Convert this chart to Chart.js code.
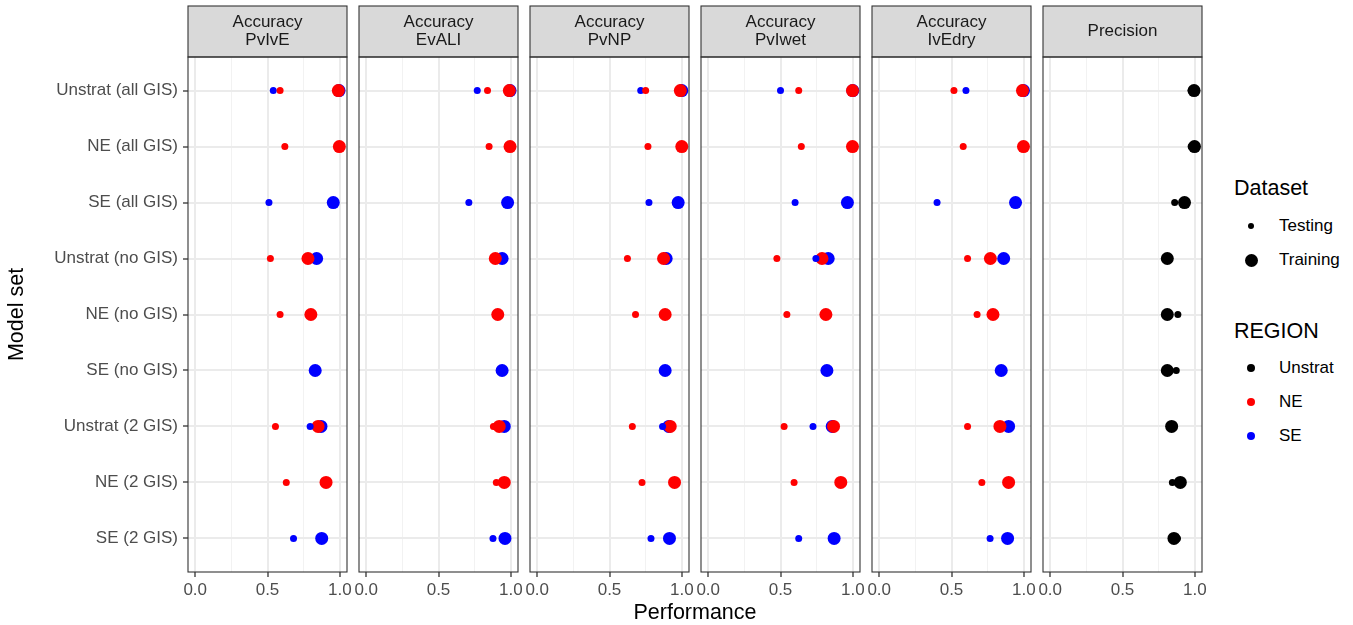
<!DOCTYPE html>
<html>
<head>
<meta charset="utf-8">
<script src="https://cdn.jsdelivr.net/npm/chart.js@4.4.1/dist/chart.umd.min.js"></script>
<style>
  body { margin: 0; background: #fff; font-family: "Liberation Sans", Arial, sans-serif; }
  #page { position: relative; width: 1353px; height: 625px; overflow: hidden; }
  canvas { position: absolute; top: 0; }
  .txt { position: absolute; white-space: nowrap; }
  .ttl { font-size: 21.5px; color: #000; line-height: 26px; }
  .lab { font-size: 17px; color: #000; line-height: 20px; }
  .dot { position: absolute; border-radius: 50%; }
</style>
</head>
<body>
<div id="page">
  <canvas id="p0"></canvas>
  <canvas id="p1"></canvas>
  <canvas id="p2"></canvas>
  <canvas id="p3"></canvas>
  <canvas id="p4"></canvas>
  <canvas id="p5"></canvas>

  <div class="txt ttl" style="left:695px; top:599px; transform:translateX(-50%);">Performance</div>

  <!-- legend -->
  <div class="txt ttl" style="left:1234px; top:175px;">Dataset</div>
  <div class="dot" style="left:1248px; top:223px; width:6px; height:6px; background:#000;"></div>
  <div class="txt lab" style="left:1279px; top:216px;">Testing</div>
  <div class="dot" style="left:1244.5px; top:253.5px; width:13px; height:13px; background:#000;"></div>
  <div class="txt lab" style="left:1279px; top:250px;">Training</div>

  <div class="txt ttl" style="left:1234px; top:318px;">REGION</div>
  <div class="dot" style="left:1247px; top:364px; width:8px; height:8px; background:#000;"></div>
  <div class="txt lab" style="left:1279px; top:358px;">Unstrat</div>
  <div class="dot" style="left:1247px; top:398px; width:8px; height:8px; background:#ff0000;"></div>
  <div class="txt lab" style="left:1279px; top:392px;">NE</div>
  <div class="dot" style="left:1247px; top:432px; width:8px; height:8px; background:#0000ff;"></div>
  <div class="txt lab" style="left:1279px; top:426px;">SE</div>
</div>

<script>
const modelSets = [
  'Unstrat (all GIS)', 'NE (all GIS)', 'SE (all GIS)',
  'Unstrat (no GIS)', 'NE (no GIS)', 'SE (no GIS)',
  'Unstrat (2 GIS)', 'NE (2 GIS)', 'SE (2 GIS)'
];
const xTicks = [0, 0.25, 0.5, 0.75, 1];
const xLabels = ['0.0', '', '0.5', '', '1.0'];

// Accuracy PvIvE
const pvive_ne_test  = [0.587, 0.62, null, 0.52, 0.587, null, 0.555, 0.63, null];
const pvive_se_test  = [0.54, null, 0.51, null, null, null, 0.795, null, 0.68];
const pvive_ne_train = [0.99, 0.997, null, 0.78, 0.80, null, 0.85, 0.905, null];
const pvive_se_train = [0.995, null, 0.955, 0.84, null, 0.83, 0.87, null, 0.875];

// Accuracy EvALI
const evali_ne_test  = [0.839, 0.85, null, null, null, null, 0.88, 0.90, null];
const evali_se_test  = [0.768, null, 0.71, null, null, null, null, null, 0.877];
const evali_ne_train = [0.99, 0.995, null, 0.893, 0.91, null, 0.92, 0.955, null];
const evali_se_train = [0.995, null, 0.978, 0.94, null, 0.94, 0.955, null, 0.96];

// Accuracy PvNP
const pvnp_ne_test  = [0.75, 0.766, null, 0.624, 0.68, null, 0.658, 0.725, null];
const pvnp_se_test  = [0.716, null, 0.773, null, null, null, 0.867, null, 0.787];
const pvnp_ne_train = [0.99, 1.0, null, 0.874, 0.885, null, 0.92, 0.95, null];
const pvnp_se_train = [1.0, null, 0.975, 0.892, null, 0.885, 0.91, null, 0.915];

// Accuracy PvIwet
const pviwet_ne_test  = [0.626, 0.644, null, 0.475, 0.544, null, 0.525, 0.594, null];
const pviwet_se_test  = [0.5, null, 0.601, 0.745, null, null, 0.725, null, 0.626];
const pviwet_ne_train = [0.998, 0.998, null, 0.787, 0.814, null, 0.867, 0.917, null];
const pviwet_se_train = [1.0, null, 0.963, 0.83, null, 0.821, 0.858, null, 0.871];

// Accuracy IvEdry
const ivedry_ne_test  = [0.517, 0.581, null, 0.611, 0.677, null, 0.611, 0.71, null];
const ivedry_se_test  = [0.6, null, 0.4, null, null, null, null, null, 0.767];
const ivedry_ne_train = [0.991, 0.998, null, 0.769, 0.787, null, 0.835, 0.895, null];
const ivedry_se_train = [0.998, null, 0.943, 0.861, null, 0.844, 0.895, null, 0.888];

// Precision (unstratified)
const precision_test  = [0.975, 0.975, 0.861, null, 0.883, 0.872, null, 0.845, 0.88];
const precision_train = [0.995, 0.998, 0.929, 0.81, 0.81, 0.81, 0.84, 0.9, 0.856];

const RED = '#ff0000', BLUE = '#0000ff', BLACK = '#000000';
const SMALL = 3.5, LARGE = 6.5;
const FONT = '"Liberation Sans", Arial, sans-serif';

const panels = [
  { strip: ['Accuracy', 'PvIvE'], series: [
    [pvive_ne_test, RED, SMALL], [pvive_se_test, BLUE, SMALL],
    [pvive_ne_train, RED, LARGE], [pvive_se_train, BLUE, LARGE]] },
  { strip: ['Accuracy', 'EvALI'], series: [
    [evali_ne_test, RED, SMALL], [evali_se_test, BLUE, SMALL],
    [evali_ne_train, RED, LARGE], [evali_se_train, BLUE, LARGE]] },
  { strip: ['Accuracy', 'PvNP'], series: [
    [pvnp_ne_test, RED, SMALL], [pvnp_se_test, BLUE, SMALL],
    [pvnp_ne_train, RED, LARGE], [pvnp_se_train, BLUE, LARGE]] },
  { strip: ['Accuracy', 'PvIwet'], series: [
    [pviwet_ne_test, RED, SMALL], [pviwet_se_test, BLUE, SMALL],
    [pviwet_ne_train, RED, LARGE], [pviwet_se_train, BLUE, LARGE]] },
  { strip: ['Accuracy', 'IvEdry'], series: [
    [ivedry_ne_test, RED, SMALL], [ivedry_se_test, BLUE, SMALL],
    [ivedry_ne_train, RED, LARGE], [ivedry_se_train, BLUE, LARGE]] },
  { strip: ['Precision'], series: [
    [precision_test, BLACK, SMALL], [precision_train, BLACK, LARGE]] }
];

// facet geometry
const PANEL_W = 159, PANEL_GAP = 171, FIRST_LEFT = 188;
const AREA_TOP = 57, AREA_BOTTOM = 572, STRIP_TOP = 6;
const SIDE = 20;

// grey strip header + dark frame around each facet
const stripPlugin = {
  id: 'strip',
  afterDraw(chart, args, opts) {
    const { ctx, chartArea: a } = chart;
    ctx.save();
    ctx.fillStyle = '#d9d9d9';
    ctx.fillRect(a.left, STRIP_TOP, a.width, a.top - STRIP_TOP);
    ctx.strokeStyle = '#333333';
    ctx.lineWidth = 1.1;
    ctx.strokeRect(a.left, STRIP_TOP, a.width, a.top - STRIP_TOP);
    ctx.strokeRect(a.left, a.top, a.width, a.height);
    ctx.fillStyle = '#1a1a1a';
    ctx.font = '17px ' + FONT;
    ctx.textAlign = 'center';
    ctx.textBaseline = 'middle';
    const mid = (STRIP_TOP + a.top) / 2;
    const step = 18.5;
    const y0 = mid - (opts.lines.length - 1) * step / 2;
    opts.lines.forEach((t, i) => ctx.fillText(t, (a.left + a.right) / 2, y0 + i * step));
    ctx.restore();
  }
};

panels.forEach((p, idx) => {
  const first = idx === 0;
  const left = FIRST_LEFT + idx * PANEL_GAP;
  const canvas = document.getElementById('p' + idx);
  const cLeft = first ? 0 : left - SIDE;
  const cWidth = first ? left + PANEL_W + 30 : PANEL_W + 2 * SIDE;
  canvas.width = cWidth;
  canvas.height = 625;
  canvas.style.left = cLeft + 'px';

  const datasets = p.series.map(([vals, color, r]) => ({
    data: vals.map((v, i) => v == null ? null : { x: v, y: i + 1 }).filter(d => d),
    backgroundColor: color,
    borderWidth: 0,
    pointRadius: r,
    pointHoverRadius: r
  }));

  new Chart(canvas.getContext('2d'), {
    type: 'scatter',
    data: { datasets },
    plugins: [stripPlugin],
    options: {
      responsive: false,
      animation: false,
      events: [],
      layout: { padding: { left: first ? 0 : SIDE, right: first ? 30 : SIDE, top: AREA_TOP, bottom: 0 } },
      plugins: {
        legend: { display: false },
        tooltip: { enabled: false },
        strip: { lines: p.strip }
      },
      scales: {
        x: {
          type: 'linear',
          min: -0.05,
          max: 1.05,
          afterBuildTicks: s => { s.ticks = xTicks.map(v => ({ value: v })); },
          afterFit: s => { s.height = 625 - AREA_BOTTOM; },
          border: { display: false },
          grid: {
            color: c => (c.index % 2 ? '#f2f2f2' : '#ebebeb'),
            lineWidth: c => (c.index % 2 ? 1 : 2),
            tickColor: c => (c.index % 2 ? 'rgba(0,0,0,0)' : '#333333'),
            tickWidth: 1.3,
            tickLength: 5
          },
          ticks: {
            autoSkip: false,
            maxRotation: 0,
            padding: 3,
            color: '#4d4d4d',
            font: { family: FONT, size: 17 },
            callback: (v, i) => xLabels[i]
          }
        },
        y: {
          type: 'linear',
          reverse: true,
          min: 0.4,
          max: 9.6,
          afterBuildTicks: s => { s.ticks = modelSets.map((_, i) => ({ value: i + 1 })); },
          afterFit: s => { s.width = first ? left : 0; },
          border: { display: false },
          grid: {
            color: '#ebebeb',
            lineWidth: 2,
            drawTicks: first,
            tickColor: '#333333',
            tickWidth: 1.3,
            tickLength: 5
          },
          ticks: {
            display: first,
            padding: 5,
            color: '#4d4d4d',
            font: { family: FONT, size: 17 },
            callback: v => modelSets[v - 1]
          },
          title: {
            display: first,
            text: 'Model set',
            color: '#000',
            font: { family: FONT, size: 21.5 },
            padding: { top: 4, bottom: 0 }
          }
        }
      }
    }
  });
});
</script>
</body>
</html>
